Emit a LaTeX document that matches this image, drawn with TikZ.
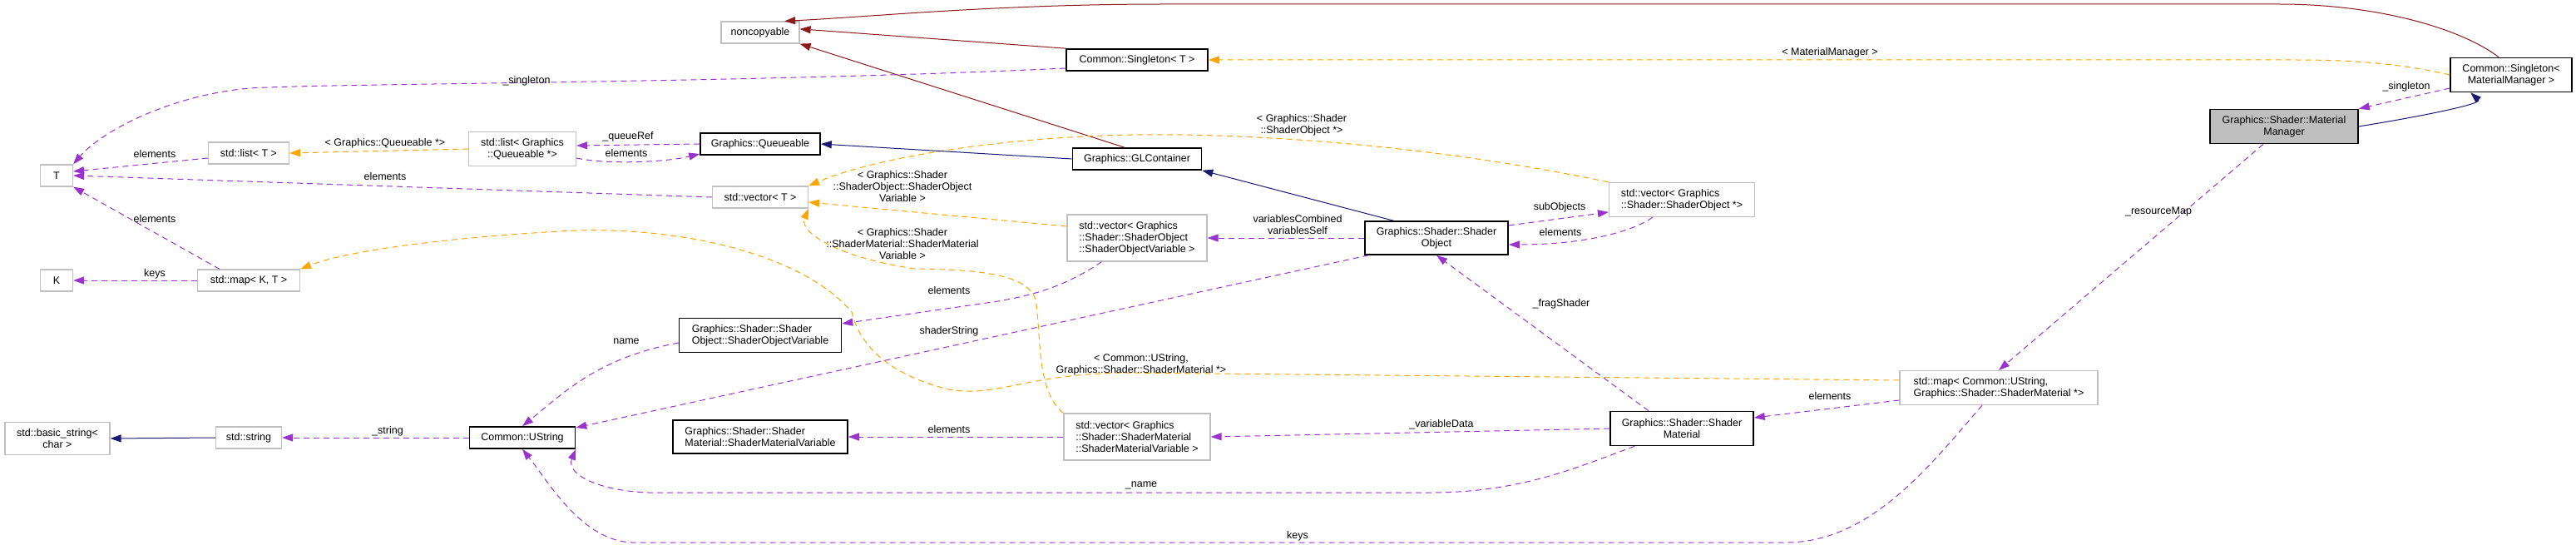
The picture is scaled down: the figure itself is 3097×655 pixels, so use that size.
\documentclass[tikz,border=0pt]{standalone}
\usepackage{fontspec}
\setmainfont{Liberation Sans}
\usetikzlibrary{arrows.meta,calc}
\definecolor{inhc}{HTML}{191970}
\definecolor{privc}{HTML}{8B1A1A}
\definecolor{usec}{HTML}{9A32CD}
\definecolor{tmplc}{HTML}{FFA500}
\definecolor{grayb}{HTML}{BFBFBF}
\begin{document}
\begin{tikzpicture}[x=1pt,y=-1pt,
  every node/.append style={font=\fontsize{12.5}{14}\selectfont},
  box/.style={draw=grayb,line width=1.2pt,fill=white,inner sep=2pt,minimum height=#1},
  box/.default=26pt,
  dbox/.style={draw=black,line width=1.6pt,fill=white,inner sep=2pt,minimum height=#1},
  dbox/.default=26pt,
  tip/.style={-{Triangle[length=13pt,width=9pt]}},
  inh/.style={tip,draw=inhc,line width=1pt},
  priv/.style={tip,draw=privc,line width=1pt},
  use/.style={tip,draw=usec,line width=1pt,dash pattern=on 7pt off 5pt},
  tmpl/.style={tip,draw=tmplc,line width=1pt,dash pattern=on 7pt off 5pt},
  lab/.style={inner sep=1pt,align=center,fill=none}]
\useasboundingbox (0,0) rectangle (3097,655);
\fill[white] (0,0) rectangle (3097,655);
% nodes
\node[box,minimum width=94pt] (nonc) at (914,39) {noncopyable};
\node[dbox,minimum width=170pt] (singT) at (1367,72) {Common::Singleton< T >};
\node[dbox=41pt,minimum width=146pt,align=center] (singMM) at (3019,90) {Common::Singleton<\\MaterialManager >};
\node[dbox=41pt,minimum width=178pt,fill=grayb,align=center] (MM) at (2746,152) {Graphics::Shader::Material\\Manager};
\node[dbox,minimum width=155pt] (GLC) at (1367,191) {Graphics::GLContainer};
\node[dbox,minimum width=144pt] (Q) at (914,173) {Graphics::Queueable};
\node[box=41pt,minimum width=129pt,align=center] (listQ) at (628,179) {std::list< Graphics\\::Queueable *>};
\node[box,minimum width=97pt] (listT) at (299,184) {std::list< T >};
\node[box,minimum width=39pt] (T) at (68,211) {T};
\node[box,minimum width=115pt] (vecT) at (914,237) {std::vector< T >};
\node[box,minimum width=39pt] (K) at (68,337) {K};
\node[box,minimum width=123pt] (mapKT) at (299,337) {std::map< K, T >};
\node[box=41pt,minimum width=175pt,align=left] (vecSO) at (2022,240) {std::vector< Graphics\\::Shader::ShaderObject *>};
\node[dbox=40pt,minimum width=172pt,align=center] (SO) at (1727,286) {Graphics::Shader::Shader\\Object};
\node[box=56pt,minimum width=168pt,align=left] (vecSOV) at (1367,286) {std::vector< Graphics\\::Shader::ShaderObject\\::ShaderObjectVariable >};
\node[dbox=41pt,minimum width=195pt,align=left] (SOV) at (914,403) {Graphics::Shader::Shader\\Object::ShaderObjectVariable};
\node[box=41pt,minimum width=238pt,align=left] (mapUS) at (2403,466) {std::map< Common::UString,\\ Graphics::Shader::ShaderMaterial *>};
\node[dbox=41pt,minimum width=172pt,align=center] (SM) at (2022,515) {Graphics::Shader::Shader\\Material};
\node[box=56pt,minimum width=176pt,align=left] (vecSMV) at (1367,525) {std::vector< Graphics\\::Shader::ShaderMaterial\\::ShaderMaterialVariable >};
\node[dbox=40pt,minimum width=210pt,align=left] (SMV) at (914,525) {Graphics::Shader::Shader\\Material::ShaderMaterialVariable};
\node[dbox,minimum width=127pt] (US) at (628,526) {Common::UString};
\node[box,minimum width=79pt] (str) at (299,526) {std::string};
\node[box=39pt,minimum width=126pt,align=center] (bstr) at (69,527) {std::basic\_string<\\char >};
% private inheritance
\draw[priv] (singT.north west) -- (nonc.5);
\draw[priv] ($(GLC.north)+(-15,0)$) -- (nonc.south east);
\draw[priv] ($(singMM.north)+(-15,0)$) .. controls (2960,35) and (2860,5) .. (2740,5) -- (1400,5) .. controls (1200,5) and (1050,20) .. (nonc.25);
% template
\draw[tmpl] (singMM.west) .. controls (2880,75) and (2820,72) .. (2760,72) -- (singT.east);
\node[lab] at (2200,63) {< MaterialManager >};
\draw[tmpl] (mapUS.west |- 0,457) -- (1350,448) .. controls (1230,450) and (1200,478) .. (1140,468) .. controls (1050,445) and (1030,400) .. (1024,375) .. controls (960,300) and (800,270) .. (673,278) .. controls (550,285) and (420,300) .. (mapKT.north east);
\node[lab] at (1372,438) {< Common::UString,\\Graphics::Shader::ShaderMaterial *>};
\draw[tmpl] (listQ.west) -- (listT.east);
\node[lab] at (463,172) {< Graphics::Queueable *>};
\draw[tmpl] (vecSO.north west) .. controls (1700,170) and (1480,160) .. (1360,162) .. controls (1200,165) and (1050,190) .. (vecT.north east);
\node[lab] at (1565,150) {< Graphics::Shader\\::ShaderObject *>};
\draw[tmpl] (vecSOV.west |- 0,272) -- (vecT.east |- 0,243);
\node[lab] at (1085,224) {< Graphics::Shader\\::ShaderObject::ShaderObject\\Variable >};
\draw[tmpl] (vecSMV.north west) .. controls (1245,470) and (1252,400) .. (1245,360) .. controls (1235,330) and (1180,324) .. (1100,323) .. controls (1010,310) and (960,280) .. (vecT.south east);
\node[lab] at (1085,293) {< Graphics::Shader\\::ShaderMaterial::ShaderMaterial\\Variable >};
% inheritance
\draw[inh] (MM.east) .. controls (2910,140) and (2985,125) .. ($(singMM.south west)+(25,0)$);
\draw[inh] (GLC.west) -- (Q.east);
\draw[inh] ($(SO.north west)+(35,0)$) -- (GLC.south east);
\draw[inh] (str.west) -- (bstr.east);
% usage
\draw[use] (singMM.west |- 0,106) -- (MM.north east);
\node[lab] at (2893,104) {\_singleton};
\draw[use] ($(MM.south)+(-25,0)$) -- (mapUS.north);
\node[lab] at (2595,254) {\_resourceMap};
\draw[use] (mapUS.west |- 0,481) -- (SM.east |- 0,502);
\node[lab] at (2200,476) {elements};
\draw[use] ($(mapUS.south)+(-20,0)$) .. controls (2320,560) and (2250,650) .. (2150,652) -- (760,652) .. controls (700,650) and (660,580) .. (US.south);
\node[lab] at (1560,644) {keys};
\draw[use] (singT.west |- 0,82) .. controls (900,100) and (400,100) .. (300,106) .. controls (200,115) and (120,160) .. (T.north east);
\node[lab] at (633,97) {\_singleton};
\draw[use] (Q.west) -- (listQ.east |- 0,175);
\node[lab] at (755,164) {\_queueRef};
\draw[use] (listQ.east |- 0,190) .. controls (730,198) and (800,195) .. (Q.west |- 0,185);
\node[lab] at (753,184) {elements};
\draw[use] (listT.west |- 0,190) -- (T.east |- 0,206);
\node[lab] at (186,185) {elements};
\draw[use] (vecT.west) -- (T.east);
\node[lab] at (463,212) {elements};
\draw[use] ($(mapKT.north)+(-35,0)$) -- (T.south east);
\node[lab] at (186,263) {elements};
\draw[use] (mapKT.west) -- (K.east);
\node[lab] at (186,329) {keys};
\draw[use] (SO.east |- 0,271) -- (vecSO.west |- 0,255);
\node[lab] at (1875,249) {subObjects};
\draw[use] ($(vecSO.south)+(-35,0)$) .. controls (1960,280) and (1900,294) .. (SO.east |- 0,294);
\node[lab] at (1876,279) {elements};
\draw[use] (SO.west) -- (vecSOV.east);
\node[lab] at (1560,270) {variablesCombined\\variablesSelf};
\draw[use] ($(vecSOV.south west)+(42,0)$) .. controls (1280,345) and (1240,355) .. (1200,362) -- (SOV.east |- 0,389);
\node[lab] at (1141,349) {elements};
\draw[use] ($(SO.south west)+(5,0)$) -- (US.east |- 0,514);
\node[lab] at (1141,398) {shaderString};
\draw[use] (SOV.west |- 0,412) .. controls (720,430) and (680,470) .. (US.north);
\node[lab] at (753,410) {name};
\draw[use] ($(SM.north)+(-40,0)$) -- (SO.south);
\node[lab] at (1877,365) {\_fragShader};
\draw[use] (SM.west) -- (vecSMV.east);
\node[lab] at (1733,510) {\_variableData};
\draw[use] (vecSMV.west) -- (SMV.east);
\node[lab] at (1141,516) {elements};
\draw[use] ($(SM.south west)+(30,0)$) .. controls (1900,560) and (1830,592) .. (1720,592) -- (780,592) .. controls (720,590) and (680,570) .. (US.south east);
\node[lab] at (1372,583) {\_name};
\draw[use] (US.west) -- (str.east);
\node[lab] at (466,518) {\_string};
\end{tikzpicture}
\end{document}
